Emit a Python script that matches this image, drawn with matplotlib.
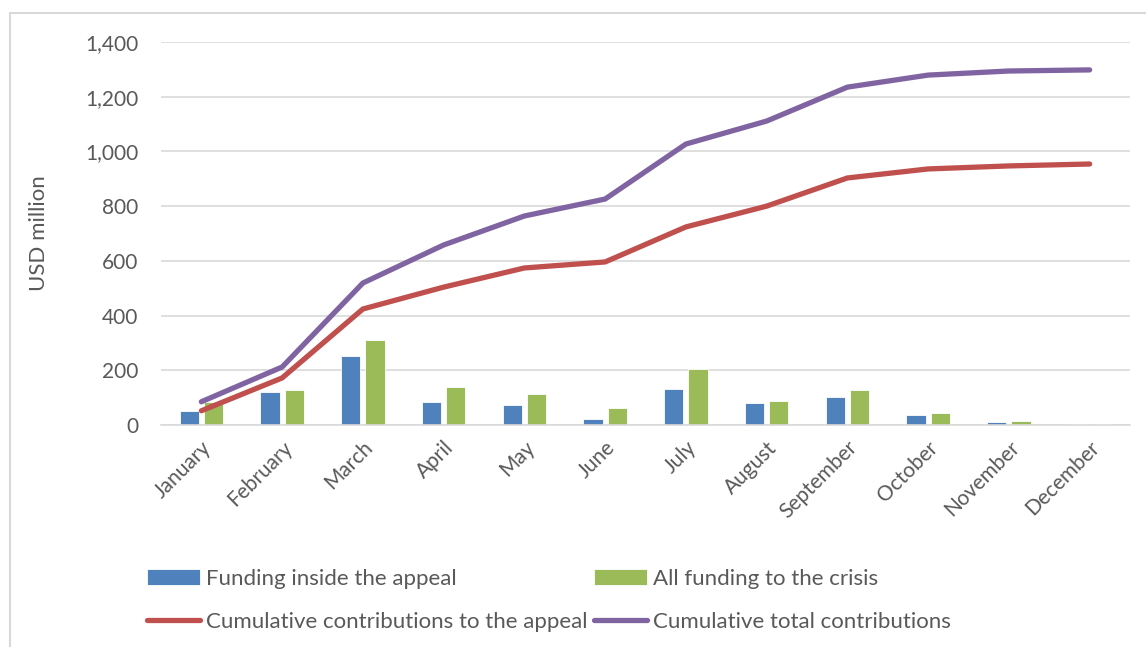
import matplotlib.pyplot as plt
import numpy as np
from matplotlib.patches import Rectangle

plt.rcParams['font.family'] = ['Lato', 'DejaVu Sans']

months = ["January", "February", "March", "April", "May", "June",
          "July", "August", "September", "October", "November", "December"]

# monthly funding (USD million)
inside_appeal = [52, 121, 252, 84, 73, 22, 132, 80, 102, 37, 11, 2]
all_funding = [85, 128, 311, 139, 113, 62, 205, 88, 128, 44, 15, 5]

# cumulative (USD million)
cum_appeal = [52, 172, 424, 504, 574, 596, 724, 800, 903, 936, 947, 954]
cum_total = [85, 212, 519, 658, 764, 826, 1027, 1111, 1235, 1279, 1294, 1298]

grey = "#595959"
blue = "#4F81BD"
green = "#9BBB59"
red = "#C0504D"
purple = "#8064A2"

fig = plt.figure(figsize=(11.46, 6.47), dpi=100)
ax = fig.add_axes([161 / 1146, 1 - 425 / 647, (1130 - 161) / 1146, (425 - 42) / 647])

x = np.arange(len(months))
w = 0.24
b1 = ax.bar(x - 0.15, inside_appeal, w, color=blue, edgecolor="white", linewidth=0.6,
            label="Funding inside the appeal", zorder=2)
b2 = ax.bar(x + 0.15, all_funding, w, color=green, edgecolor="white", linewidth=0.6,
            label="All funding to the crisis", zorder=2)
l1, = ax.plot(x, cum_appeal, color=red, lw=3.8, solid_capstyle="round",
              label="Cumulative contributions to the appeal", zorder=3)
l2, = ax.plot(x, cum_total, color=purple, lw=3.8, solid_capstyle="round",
              label="Cumulative total contributions", zorder=3)

ax.set_xlim(-0.5, len(months) - 0.5)
ax.set_ylim(0, 1400)
ax.set_yticks(range(0, 1401, 200))
ax.set_yticklabels([f"{v:,}" for v in range(0, 1401, 200)])
ax.yaxis.grid(True, color="#D9D9D9", lw=1.2, zorder=0)
ax.set_axisbelow(True)
for s in ["top", "right", "left"]:
    ax.spines[s].set_visible(False)
ax.spines["bottom"].set_color("#D9D9D9")
ax.spines["bottom"].set_linewidth(1.2)
ax.tick_params(axis="both", length=0, colors=grey, labelsize=15)
ax.tick_params(axis="y", pad=16.5)
ax.set_xticks(x)
ax.set_xticklabels(months, rotation=45, ha="right", rotation_mode="anchor")
ax.tick_params(axis="x", pad=9)
ax.set_ylabel("USD million", color=grey, fontsize=16, labelpad=26)

fig.legend(handles=[b1, l1, b2, l2], ncol=2, loc="upper left",
           bbox_to_anchor=(138 / 1146, 1 - 560 / 647), frameon=False,
           fontsize=16, labelcolor=grey, handlelength=2.4, handletextpad=0.25,
           columnspacing=0.3, labelspacing=1.05, borderaxespad=0)

# outer chart border
fig.patches.append(Rectangle((10 / 1146, -0.1), 1.2, 1 - 13 / 647 + 0.1,
                             transform=fig.transFigure, fill=False,
                             edgecolor="#D9D9D9", lw=1.5))

fig.savefig("out.png", dpi=100)
